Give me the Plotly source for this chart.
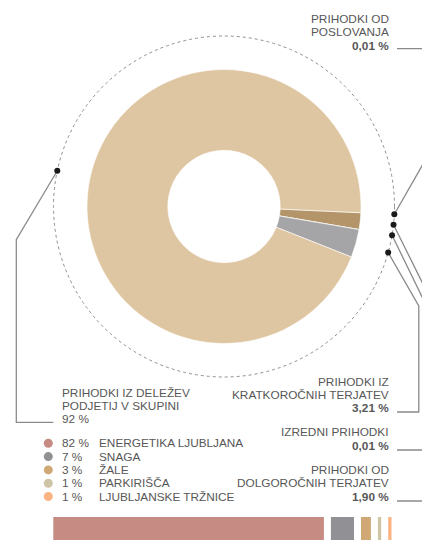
import plotly.graph_objects as go
import math

# ---------------- data ----------------
slice_labels = ["PRIHODKI OD POSLOVANJA", "PRIHODKI OD DOLGOROČNIH TERJATEV",
                "IZREDNI PRIHODKI", "PRIHODKI IZ KRATKOROČNIH TERJATEV",
                "PRIHODKI IZ DELEŽEV PODJETIJ V SKUPINI"]
slice_values = [0.01, 1.90, 0.01, 3.21, 92]
slice_colors = ["#b39569", "#b39569", "#a5a5a7", "#a5a5a7", "#dfc6a2"]

company_names = ["ENERGETIKA LJUBLJANA", "SNAGA", "ŽALE", "PARKIRIŠČA", "LJUBLJANSKE TRŽNICE"]
company_values = [82, 7, 3, 1, 1]
company_labels = ["82 %", "7 %", "3 %", "1 %", "1 %"]
company_colors = ["#c68b83", "#909095", "#cfa876", "#cdc5a5", "#fbb383"]

# ---------------- layout constants (page pixels) ----------------
PAGE_W, PAGE_H = 430, 540
OFF = 8                      # default body margin of the page
W, H = PAGE_W - OFF, PAGE_H - OFF
CX, CY = 224, 206.5
R_OUT = 137
R_DOT = 170.5
ROTATION = 92.6
TXT = "#575757"
FONT = "Liberation Sans"
FS = 11.8


def px(x):
    return (x - OFF) / W


def py(y):
    return 1 - (y - OFF) / H


fig = go.Figure()

# donut
fig.add_trace(go.Pie(
    values=slice_values, labels=slice_labels, sort=False, direction="clockwise",
    rotation=ROTATION, hole=0.41, textinfo="none", hoverinfo="label+value",
    marker=dict(colors=slice_colors, line=dict(color="white", width=0.6)),
    domain=dict(x=[px(CX - R_OUT), px(CX + R_OUT)],
                y=[py(CY + R_OUT), py(CY - R_OUT)]),
    showlegend=False,
))

# dot positions from slice mid angles
total = sum(slice_values)
dots = []
cum = 0
for v in slice_values:
    th = math.radians(ROTATION + (cum + v / 2) / total * 360)
    dots.append((CX + R_DOT * math.sin(th), CY - R_DOT * math.cos(th)))
    cum += v

# leader line paths (after the dot)
paths = [
    [(489, 48.7), (397, 48.7)],                 # poslovanja
    [(434, 306), (434, 501), (397, 501)],       # dolgoročnih
    [(426.5, 306), (426.5, 450), (397, 450)],   # izredni
    [(418.8, 306), (418.8, 412), (397, 412)],   # kratkoročnih
    [(16.3, 239.7), (16.3, 422.3), (53.3, 422.3)],  # deleži
]
for (dx, dy), p in zip(dots, paths):
    xs = [dx] + [q[0] for q in p]
    ys = [dy] + [q[1] for q in p]
    fig.add_trace(go.Scatter(x=xs, y=ys, mode="lines", line=dict(color="#8a8a8a", width=1.3),
                             hoverinfo="skip", showlegend=False))

fig.add_trace(go.Scatter(x=[d[0] for d in dots], y=[d[1] for d in dots], mode="markers",
                         marker=dict(color="#1a1a1a", size=6), hoverinfo="skip",
                         showlegend=False, cliponaxis=False))

# bottom bar
SCALE = 3.3
GAP = 7
X0 = 53.3
bases = []
c = 0
for i, v in enumerate(company_values):
    bases.append(X0 + SCALE * c + GAP * i)
    c += v
fig.add_trace(go.Bar(
    x=[v * SCALE for v in company_values], base=bases, y=[531] * 5, width=28,
    orientation="h", marker=dict(color=company_colors, line=dict(width=0)),
    hovertext=company_names, hoverinfo="text", showlegend=False,
))

# legend dots
LEG_Y = [443.3, 456.6, 469.9, 483.2, 496.5]
fig.add_trace(go.Scatter(x=[48.3] * 5, y=LEG_Y, mode="markers",
                         marker=dict(color=company_colors, size=9), hoverinfo="skip",
                         showlegend=False))

annotations = []


def txt(x, y, s, anchor="right", bold=False, color=TXT, size=FS):
    annotations.append(dict(
        x=x, y=y, xref="x", yref="y", text=f"<b>{s}</b>" if bold else s,
        showarrow=False, xanchor=anchor, yanchor="middle",
        font=dict(family=FONT, size=size, color=color), borderpad=0, borderwidth=0,
    ))


for lab, nm, y in zip(company_labels, company_names, LEG_Y):
    txt(62, y, lab, anchor="left")
    txt(99, y, nm, anchor="left")

RX = 389
txt(RX, 19, "PRIHODKI OD")
txt(RX, 32.3, "POSLOVANJA")
txt(RX, 45.6, "0,01 %", bold=True)

txt(RX, 381.5, "PRIHODKI IZ")
txt(RX, 394.8, "KRATKOROČNIH TERJATEV")
txt(RX, 408.1, "3,21 %", bold=True)

txt(RX, 432, "IZREDNI PRIHODKI")
txt(RX, 445.5, "0,01 %", bold=True)

txt(RX, 470, "PRIHODKI OD")
txt(RX, 483.3, "DOLGOROČNIH TERJATEV")
txt(RX, 496.6, "1,90 %", bold=True)

txt(62, 392.5, "PRIHODKI IZ DELEŽEV", anchor="left")
txt(62, 405.8, "PODJETIJ V SKUPINI", anchor="left")
txt(62, 419.1, "92 %", anchor="left")

fig.update_layout(
    width=W, height=H, margin=dict(l=0, r=0, t=0, b=0),
    paper_bgcolor="white", plot_bgcolor="white",
    xaxis=dict(range=[OFF, PAGE_W], visible=False, fixedrange=True),
    yaxis=dict(range=[PAGE_H, OFF], visible=False, fixedrange=True),
    annotations=annotations,
    shapes=[dict(type="circle", xref="x", yref="y",
                 x0=CX - R_DOT, x1=CX + R_DOT, y0=CY - R_DOT, y1=CY + R_DOT,
                 line=dict(color="#8f8f8f", width=1, dash="dot"), layer="below")],
    showlegend=False,
)

fig.write_html("out.html")
